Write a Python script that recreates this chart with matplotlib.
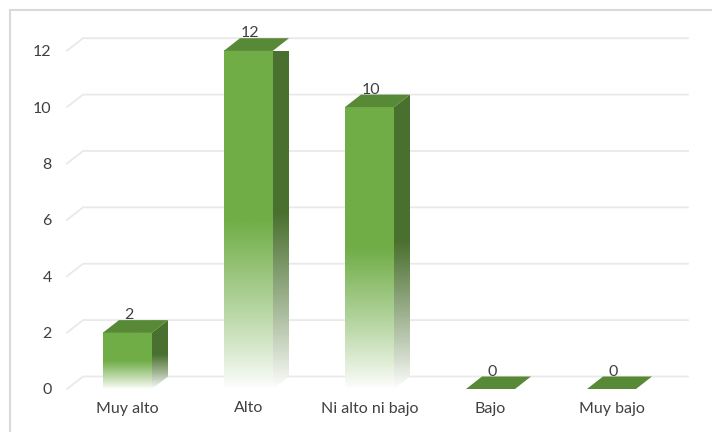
import numpy as np
import matplotlib
matplotlib.use("Agg")
import matplotlib.pyplot as plt
from matplotlib.patches import Polygon, Rectangle
from matplotlib.colors import to_rgb

categories = ["Muy alto", "Alto", "Ni alto ni bajo", "Bajo", "Muy bajo"]
values = [2, 12, 10, 0, 0]
yticks = [0, 2, 4, 6, 8, 10, 12]

plt.rcParams['font.family'] = ['Lato', 'DejaVu Sans']

W, H = 712, 432
fig = plt.figure(figsize=(W / 100, H / 100), dpi=100)
fig.patch.set_facecolor('white')

# axes = front plane of the 3D plot
left_px, right_px, bot_px, top_px = 67, 672, 389, 50.7
ax = fig.add_axes([left_px / W, (H - bot_px) / H, (right_px - left_px) / W, (bot_px - top_px) / H])
ax.set_xlim(-0.5, 4.5)
ax.set_ylim(0, 12)
ax.set_facecolor('none')
for s in ax.spines.values():
    s.set_visible(False)

px_x = (right_px - left_px) / 5.0
px_y = (bot_px - top_px) / 12.0
dx = 16 / px_x
dy = 12.5 / px_y
bw = 49 / px_x

grid_c = '#e9e9e9'
for v in yticks:
    ax.plot([-0.5, -0.5 + dx, 4.5 + dx], [v, v + dy, v + dy], color=grid_c,
            lw=1.3, clip_on=False, zorder=0, solid_joinstyle='miter')

front_c = np.array(to_rgb('#70AD47'))
side_c = np.array(to_rgb('#4A702F'))
top_c = '#578936'
white = np.ones(3)


def grad_img(col, n=256, frac=0.5):
    t = np.linspace(0, 1, n)  # 0 bottom -> 1 top
    a = np.clip(t / frac, 0, 1)
    a = a ** 0.9
    img = white[None, :] * (1 - a[:, None]) + col[None, :] * a[:, None]
    img = img[::-1]  # top row first
    return img[:, None, :]


for i, v in enumerate(values):
    x0 = i - bw / 2
    x1 = i + bw / 2
    if v > 0:
        # front face
        ax.imshow(grad_img(front_c), extent=(x0, x1, 0, v), aspect='auto',
                  interpolation='bilinear', zorder=2, clip_on=False)
        # side face
        side = Polygon([(x1, 0), (x1 + dx, dy), (x1 + dx, v + dy), (x1, v)],
                       closed=True, facecolor='none', edgecolor='none')
        ax.add_patch(side)
        im = ax.imshow(grad_img(side_c), extent=(x1, x1 + dx, 0, v + dy), aspect='auto',
                       interpolation='bilinear', zorder=2)
        im.set_clip_path(side)
    # top face
    top = Polygon([(x0, v), (x1, v), (x1 + dx, v + dy), (x0 + dx, v + dy)],
                  closed=True, facecolor=top_c, edgecolor='none', zorder=3, clip_on=False)
    ax.add_patch(top)
    ax.text(i + 0.01, v + dy + 0.03, str(v), ha='center', va='baseline',
            fontsize=11.5, color='#404040', zorder=4, clip_on=False)

ax.set_xlim(-0.5, 4.5)
ax.set_ylim(0, 12)
ax.set_xticks(range(len(categories)))
ax.set_xticklabels(categories)
ax.set_yticks(yticks)
ax.set_yticklabels([str(t) for t in yticks])
ax.tick_params(axis='both', length=0, labelsize=11.5, labelcolor='#404040')
ax.tick_params(axis='y', pad=11)
ax.tick_params(axis='x', pad=9)

# chart border
fig.add_artist(Rectangle((10 / W, -0.1), 1.2, (H - 10) / H + 0.1, transform=fig.transFigure,
                         facecolor='none', edgecolor='#d9d9d9', lw=1.5))

fig.savefig('out.png', dpi=100, facecolor='white')
